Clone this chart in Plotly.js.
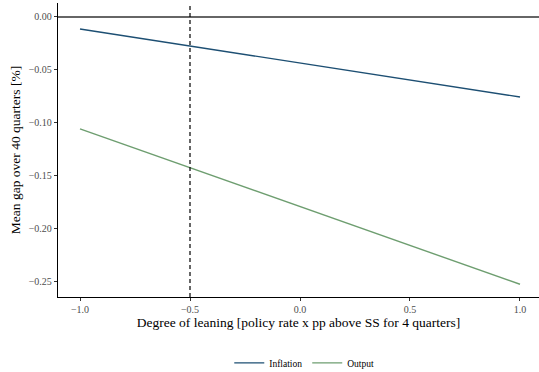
<!DOCTYPE html>
<html>
<head>
<meta charset="utf-8">
<script src="https://cdn.plot.ly/plotly-3.0.1.min.js"></script>
<style>html,body{margin:0;padding:0;background:#fff;}#chart{width:539px;height:372px;}</style>
</head>
<body>
<div id="chart"></div>
<script>
var leaning = [-1.0, -0.5, 0.0, 0.5, 1.0];
var inflation = [-0.0113, -0.0274, -0.0435, -0.0595, -0.0755];
var output = [-0.1055, -0.1420, -0.1788, -0.2155, -0.2522];
var xTicks = [-1.0, -0.5, 0.0, 0.5, 1.0];
var xTickLabels = ['\u22121.0', '\u22120.5', '0.0', '0.5', '1.0'];
var yTicks = [0.00, -0.05, -0.10, -0.15, -0.20, -0.25];
var yTickLabels = ['0.00', '\u22120.05', '\u22120.10', '\u22120.15', '\u22120.20', '\u22120.25'];
var vlineX = -0.5;
var hlineY = 0;

var font = 'Liberation Serif, Times New Roman, serif';
var traces = [
  {x: leaning, y: inflation, type: 'scatter', mode: 'lines', name: 'Inflation',
   line: {color: '#1d4f73', width: 1.4}},
  {x: leaning, y: output, type: 'scatter', mode: 'lines', name: 'Output',
   line: {color: '#6e9e70', width: 1.4}}
];
var layout = {
  width: 539, height: 372,
  margin: {l: 58, r: 0, t: 3, b: 75, autoexpand: false},
  paper_bgcolor: '#fff', plot_bgcolor: '#fff',
  font: {family: font, color: '#000'},
  showlegend: true,
  legend: {orientation: 'h', x: 0.512, xanchor: 'center',
           y: -0.224, yanchor: 'middle', font: {size: 9.5, family: font, color: '#000'}},
  xaxis: {range: [-1.1, 1.0864], tickvals: xTicks, ticktext: xTickLabels, automargin: false,
          showgrid: false, zeroline: false, showline: true, linecolor: '#000', linewidth: 1.2,
          ticks: 'outside', ticklen: 3, tickcolor: '#333', tickwidth: 1,
          tickfont: {size: 10, color: '#4d4d4d', family: font},
          title: {text: 'Degree of leaning [policy rate x pp above SS for 4 quarters]',
                  font: {size: 13.5, color: '#000', family: font}, standoff: 3}},
  yaxis: {range: [-0.2642, 0.0132], tickvals: yTicks, ticktext: yTickLabels, automargin: false,
          showgrid: false, zeroline: false, showline: true, linecolor: '#000', linewidth: 1.2,
          ticks: 'outside', ticklen: 3, tickcolor: '#333', tickwidth: 1,
          tickfont: {size: 10, color: '#4d4d4d', family: font},
          title: {text: 'Mean gap over 40 quarters [%]',
                  font: {size: 13.5, color: '#000', family: font}, standoff: 5}},
  shapes: [
    {type: 'line', xref: 'paper', x0: 0, x1: 1, yref: 'y', y0: hlineY, y1: hlineY,
     line: {color: '#333', width: 1.6}},
    {type: 'line', xref: 'x', x0: vlineX, x1: vlineX, yref: 'paper', y0: 0, y1: 1,
     line: {color: '#000', width: 1.2, dash: '4px,3px'}}
  ]
};
Plotly.newPlot('chart', traces, layout, {displayModeBar: false, staticPlot: true});
</script>
</body>
</html>
